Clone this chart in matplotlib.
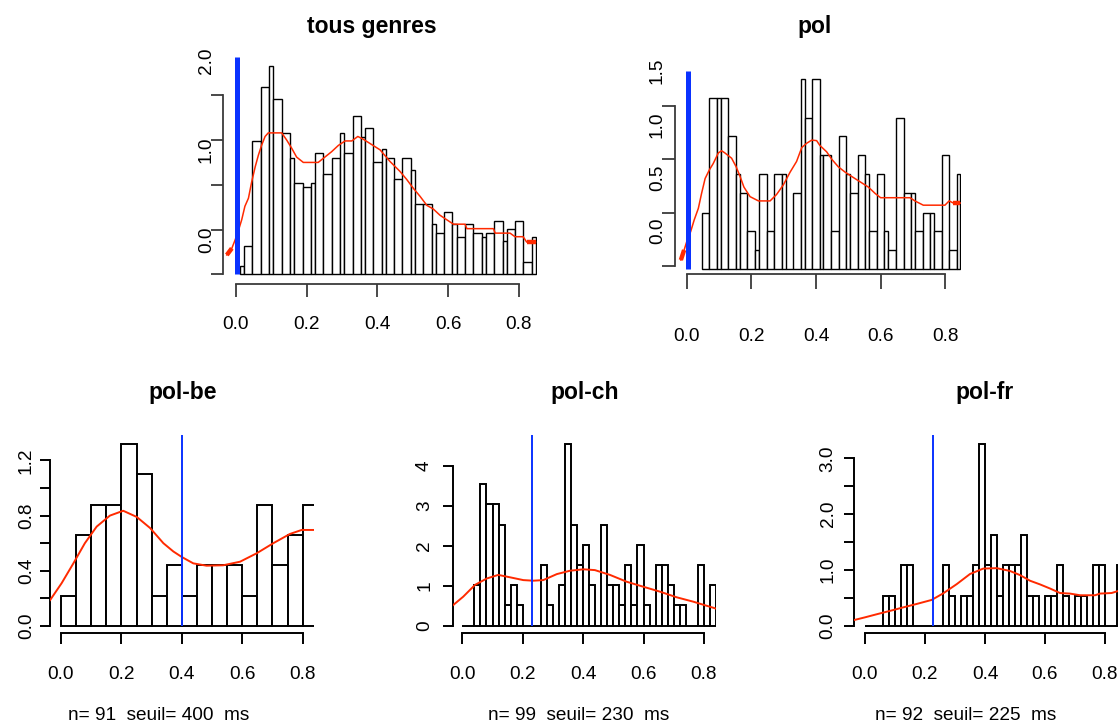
import numpy as np
import matplotlib
matplotlib.use("Agg")
import matplotlib.pyplot as plt
import matplotlib.transforms as mtransforms

# ---------------- data ----------------
titles = ["tous genres", "pol", "pol-be", "pol-ch", "pol-fr"]
x_ticks = [0.0, 0.2, 0.4, 0.6, 0.8]
x_ticklabels = ["0.0", "0.2", "0.4", "0.6", "0.8"]

# tous genres : bar edges (s) and bar tops (density)
tg_edges = [0.011, 0.023, 0.047, 0.071, 0.094, 0.106, 0.130, 0.153, 0.165, 0.189,
            0.212, 0.224, 0.247, 0.271, 0.295, 0.306, 0.330, 0.353, 0.365, 0.389,
            0.412, 0.424, 0.448, 0.471, 0.495, 0.506, 0.530, 0.554, 0.565, 0.589,
            0.612, 0.624, 0.648, 0.671, 0.695, 0.706, 0.730, 0.754, 0.766, 0.789,
            0.812, 0.836, 0.848]
tg_density = [0.09, 0.32, 1.49, 2.09, 2.33, 1.96, 1.58, 1.30, 1.02, 0.98,
              1.02, 1.35, 1.12, 1.30, 1.58, 1.35, 1.77, 1.53, 1.63, 1.25,
              1.40, 1.30, 1.07, 1.30, 1.16, 0.79, 0.79, 0.56, 0.46, 0.70,
              0.56, 0.42, 0.56, 0.46, 0.42, 0.46, 0.60, 0.37, 0.51, 0.60,
              0.14, 0.42]
tg_kde_x = [-0.025, -0.011, -0.002, 0.007, 0.017, 0.026, 0.036, 0.045, 0.055, 0.064,
            0.073, 0.083, 0.092, 0.130, 0.144, 0.158, 0.172, 0.191, 0.233, 0.252,
            0.271, 0.290, 0.309, 0.328, 0.345, 0.360, 0.384, 0.408, 0.436, 0.464,
            0.483, 0.502, 0.521, 0.540, 0.558, 0.577, 0.596, 0.615, 0.648, 0.653,
            0.728, 0.733, 0.775, 0.789, 0.812, 0.822, 0.847]
tg_kde_y = [0.216, 0.29, 0.38, 0.48, 0.61, 0.76, 0.85, 1.03, 1.20, 1.33,
            1.44, 1.54, 1.58, 1.58, 1.50, 1.41, 1.31, 1.25, 1.25, 1.31,
            1.37, 1.44, 1.49, 1.49, 1.54, 1.51, 1.45, 1.39, 1.26, 1.15,
            1.06, 0.96, 0.87, 0.77, 0.73, 0.66, 0.61, 0.56, 0.56, 0.51,
            0.51, 0.46, 0.46, 0.42, 0.42, 0.36, 0.36]
tg_seuil = 0.004

# pol
pol_edges = [0.046, 0.070, 0.094, 0.106, 0.129, 0.153, 0.164, 0.187, 0.211, 0.224,
             0.248, 0.271, 0.294, 0.306, 0.330, 0.354, 0.365, 0.389, 0.412, 0.423,
             0.446, 0.470, 0.494, 0.505, 0.529, 0.553, 0.565, 0.588, 0.611, 0.624,
             0.648, 0.671, 0.693, 0.706, 0.730, 0.753, 0.765, 0.789, 0.812, 0.835,
             0.846]
pol_density = [0.50, 1.57, 1.57, 1.57, 1.22, 0.86, 0.68, 0.325, 0.147, 0.86,
               0.325, 0.86, 0.86, np.nan, 0.68, 1.75, 1.39, 1.75, 1.04, 1.04,
               0.325, 1.22, 0.86, 0.68, 1.04, 0.86, 0.325, 0.86, 0.325, 0.147,
               1.39, 0.68, 0.68, 0.325, 0.50, 0.50, 0.325, 1.04, 0.147, 0.86]
pol_base = -0.031
pol_kde_x = [-0.018, -0.008, 0.005, 0.012, 0.023, 0.036, 0.046, 0.057, 0.070, 0.082,
             0.098, 0.108, 0.118, 0.139, 0.153, 0.165, 0.177, 0.196, 0.222, 0.258,
             0.278, 0.299, 0.320, 0.340, 0.356, 0.371, 0.387, 0.402, 0.412, 0.433,
             0.449, 0.469, 0.490, 0.510, 0.536, 0.562, 0.583, 0.600, 0.691, 0.706,
             0.732, 0.799, 0.812, 0.825, 0.846]
pol_kde_y = [0.056, 0.15, 0.275, 0.32, 0.43, 0.54, 0.68, 0.82, 0.90, 0.96,
             1.06, 1.08, 1.06, 1.01, 0.93, 0.84, 0.74, 0.65, 0.61, 0.61,
             0.67, 0.76, 0.88, 0.98, 1.11, 1.15, 1.18, 1.175, 1.13, 1.07,
             1.00, 0.93, 0.88, 0.84, 0.79, 0.74, 0.68, 0.64, 0.64, 0.61,
             0.57, 0.57, 0.61, 0.59, 0.59]
pol_seuil = 0.003

# pol-be (bins of 0.05 s)
be_n = 91
be_seuil_ms = 400
be_binw = 0.05
be_counts = [1, 3, 4, 4, 6, 5, 1, 2, 1, 2, 2, 2, 1, 4, 2, 3, 4]
be_kde_x = [-0.036, 0.002, 0.041, 0.079, 0.118, 0.162, 0.206, 0.251, 0.295, 0.339,
            0.372, 0.400, 0.438, 0.482, 0.537, 0.593, 0.648, 0.703, 0.758, 0.797, 0.835]
be_kde_y = [0.188, 0.31, 0.454, 0.60, 0.72, 0.80, 0.835, 0.79, 0.71, 0.60,
            0.54, 0.50, 0.454, 0.437, 0.44, 0.466, 0.527, 0.60, 0.667, 0.696, 0.696]

# pol-ch (bins of 0.02 s)
ch_n = 99
ch_seuil_ms = 230
ch_binw = 0.02
ch_counts = [0, 0, 2, 7, 6, 6, 5, 1, 2, 1, 0, 0, 0, 3, 1, 0, 2, 9, 5, 3, 4,
             2, 0, 5, 2, 2, 1, 3, 1, 4, 1, 0, 3, 3, 2, 1, 1, 0, 0, 3, 0, 2]
ch_kde_x = [-0.030, 0.003, 0.042, 0.081, 0.119, 0.158, 0.202, 0.235, 0.268, 0.313,
            0.357, 0.401, 0.439, 0.489, 0.544, 0.599, 0.655, 0.710, 0.765, 0.839]
ch_kde_y = [0.517, 0.725, 1.02, 1.18, 1.27, 1.21, 1.14, 1.125, 1.14, 1.29,
            1.375, 1.41, 1.39, 1.27, 1.10, 0.975, 0.85, 0.71, 0.60, 0.43]

# pol-fr (bins of 0.02 s)
fr_n = 92
fr_seuil_ms = 225
fr_binw = 0.02
fr_counts = [0, 0, 0, 1, 1, 0, 2, 2, 0, 0, 0, 0, 0, 2, 1, 0, 1, 1, 2, 6, 2,
             3, 1, 2, 2, 2, 3, 1, 1, 0, 1, 1, 2, 1, 0, 1, 1, 0, 2, 2, 0, 0, 2]
fr_kde_x = [-0.036, 0.0, 0.039, 0.083, 0.128, 0.172, 0.222, 0.261, 0.306, 0.35,
            0.394, 0.439, 0.483, 0.517, 0.55, 0.583, 0.617, 0.65, 0.683, 0.717,
            0.767, 0.783, 0.822, 0.843]
fr_kde_y = [0.107, 0.155, 0.21, 0.27, 0.334, 0.394, 0.466, 0.585, 0.75, 0.93,
            1.027, 1.035, 0.985, 0.91, 0.81, 0.745, 0.67, 0.59, 0.58, 0.55,
            0.55, 0.58, 0.59, 0.625]

# ---------------- style ----------------
plt.rcParams['font.family'] = ['Liberation Sans', 'DejaVu Sans']
RED = '#ff2a00'
BLUE = '#0a32ff'
FS = 13.7
TFS = 16.5
W, H = 1118, 724
DPI = 100
CAP = 0.716 * FS * DPI / 72.0

fig = plt.figure(figsize=(W / DPI, H / DPI), dpi=DPI)


def pt(px):
    return px * 72.0 / DPI


def make_axes(box, x0, sx, y0, sy):
    l, t, r, b = box
    ax = fig.add_axes([l / W, 1 - b / H, (r - l) / W, (b - t) / H])
    ax.set_xlim((l - x0) / sx, (r - x0) / sx)
    ax.set_ylim((y0 - b) / sy, (y0 - t) / sy)
    ax.patch.set_visible(False)
    for s in ('top', 'right'):
        ax.spines[s].set_visible(False)
    return ax


def style_axes(ax, yticks, axcol, axlw, xtl, ytl):
    ax.set_xticks(x_ticks)
    ax.set_yticks(yticks)
    ax.spines['bottom'].set_bounds(x_ticks[0], x_ticks[-1])
    ax.spines['left'].set_bounds(yticks[0], yticks[-1])
    for s in ('bottom', 'left'):
        ax.spines[s].set_color(axcol)
        ax.spines[s].set_linewidth(axlw)
    ax.tick_params(axis='x', direction='out', length=pt(xtl), width=axlw,
                   color=axcol, labelbottom=False)
    ax.tick_params(axis='y', direction='out', length=pt(ytl), width=axlw,
                   color=axcol, labelleft=False)


def xlabels(ax, dist_px):
    tr = mtransforms.blended_transform_factory(ax.transData, ax.transAxes) + \
        mtransforms.ScaledTranslation(0, -(dist_px + CAP / 2) / DPI, fig.dpi_scale_trans)
    for v, s in zip(x_ticks, x_ticklabels):
        ax.text(v, 0, s, transform=tr, ha='center', va='baseline', fontsize=FS)


def ylabels(ax, vals, labs, dist_px, shift_px=0.0):
    tr = mtransforms.blended_transform_factory(ax.transAxes, ax.transData) + \
        mtransforms.ScaledTranslation((-dist_px + CAP / 2) / DPI, shift_px / DPI,
                                      fig.dpi_scale_trans)
    for v, s in zip(vals, labs):
        ax.text(0, v, s, transform=tr, rotation=90, rotation_mode='anchor',
                ha='center', va='baseline', fontsize=FS)


def draw_bars(ax, edges, tops, base, lw):
    edges = np.asarray(edges, float)
    tops = np.asarray(tops, float)
    tops = np.where(np.isnan(tops), base, tops)
    ax.bar(edges[:-1], tops - base, width=np.diff(edges), bottom=base,
           align='edge', facecolor='white', edgecolor='black', linewidth=lw, zorder=2)


def title(cx, cy, s):
    fig.text(cx / W, 1 - cy / H, s, ha='center', va='center', fontsize=TFS,
             fontweight='bold')


# ---------------- top-left : tous genres ----------------
ax = make_axes((223, 56.7, 537, 283.5), 235.7, 354.0, 274.3, 89.5)
draw_bars(ax, tg_edges, tg_density, 0.0, 1.0)
ax.plot(tg_kde_x, tg_kde_y, color=RED, lw=1.1, zorder=3)
ax.plot(tg_kde_x[:2], tg_kde_y[:2], color=RED, lw=3.2, solid_capstyle='butt', zorder=3)
ax.plot(tg_kde_x[-2:], tg_kde_y[-2:], color=RED, lw=3.2, solid_capstyle='butt', zorder=3)
ax.vlines(tg_seuil, 0.0, ax.get_ylim()[1], color=BLUE, lw=3.6, zorder=4)
style_axes(ax, [0.0, 0.5, 1.0, 1.5, 2.0], '#3a3a3a', 1.3, 13, 12)
xlabels(ax, 38.4)
ylabels(ax, [0.0, 1.0, 2.0], ["0.0", "1.0", "2.0"], 19, 35)
title(371.5, 27, titles[0])

# ---------------- top-right : pol ----------------
ax = make_axes((675, 70.7, 961, 274), 686.7, 323.2, 266.0, 106.7)
draw_bars(ax, pol_edges, pol_density, pol_base, 1.0)
ax.plot(pol_kde_x, pol_kde_y, color=RED, lw=1.1, zorder=3)
ax.plot(pol_kde_x[:2], pol_kde_y[:2], color=RED, lw=3.2, solid_capstyle='butt', zorder=3)
ax.plot(pol_kde_x[-2:], pol_kde_y[-2:], color=RED, lw=3.2, solid_capstyle='butt', zorder=3)
ax.vlines(pol_seuil, pol_base, ax.get_ylim()[1], color=BLUE, lw=3.6, zorder=4)
style_axes(ax, [0.0, 0.5, 1.0, 1.5], '#3a3a3a', 1.3, 15, 13)
xlabels(ax, 60)
ylabels(ax, [0.0, 0.5, 1.0, 1.5], ["0.0", "0.5", "1.0", "1.5"], 20, 35)
title(815, 27, titles[1])

# ---------------- bottom row ----------------
bottom_panels = [
    (titles[2], be_counts, be_n, be_binw, be_seuil_ms, be_kde_x, be_kde_y,
     (50, 435, 313.5, 633.3), 61.0, 302.0, 626.0, 138.0,
     [0.0, 0.2, 0.4, 0.6, 0.8, 1.0, 1.2], [0.0, 0.4, 0.8, 1.2], ["0.0", "0.4", "0.8", "1.2"],
     26, 183, 159),
    (titles[3], ch_counts, ch_n, ch_binw, ch_seuil_ms, ch_kde_x, ch_kde_y,
     (453.3, 435, 716, 633.3), 462.3, 302.0, 625.7, 40.0,
     [0, 1, 2, 3, 4], [0, 1, 2, 3, 4], ["0", "1", "2", "3", "4"],
     31, 585, 579),
    (titles[4], fr_counts, fr_n, fr_binw, fr_seuil_ms, fr_kde_x, fr_kde_y,
     (854.3, 435, 1118, 633.3), 865.0, 300.0, 626.0, 55.9,
     [0.0, 0.5, 1.0, 1.5, 2.0, 2.5, 3.0], [0.0, 1.0, 2.0, 3.0], ["0.0", "1.0", "2.0", "3.0"],
     28.6, 985, 966),
]

for (name, counts, n, bw, seuil_ms, kx, ky, box, x0, sx, y0, sy,
     yt, ylv, yll, ydist, tcx, ncx) in bottom_panels:
    ax = make_axes(box, x0, sx, y0, sy)
    counts = np.asarray(counts, float)
    density = counts / (n * bw)
    edges = bw * np.arange(len(counts) + 1)
    draw_bars(ax, edges, density, 0.0, 1.4)
    ax.plot(kx, ky, color=RED, lw=1.4, zorder=3)
    ax.vlines(seuil_ms / 1000.0, 0.0, ax.get_ylim()[1], color=BLUE, lw=1.4, zorder=4)
    style_axes(ax, yt, 'black', 1.4, 10.7, 10)
    xlabels(ax, 38.4)
    ylabels(ax, ylv, yll, ydist)
    title(tcx, 393, name)
    fig.text(ncx / W, 1 - 720 / H, f"n= {n}  seuil= {seuil_ms}  ms", ha='center',
             va='baseline', fontsize=FS)

fig.savefig("out.png", dpi=DPI)
